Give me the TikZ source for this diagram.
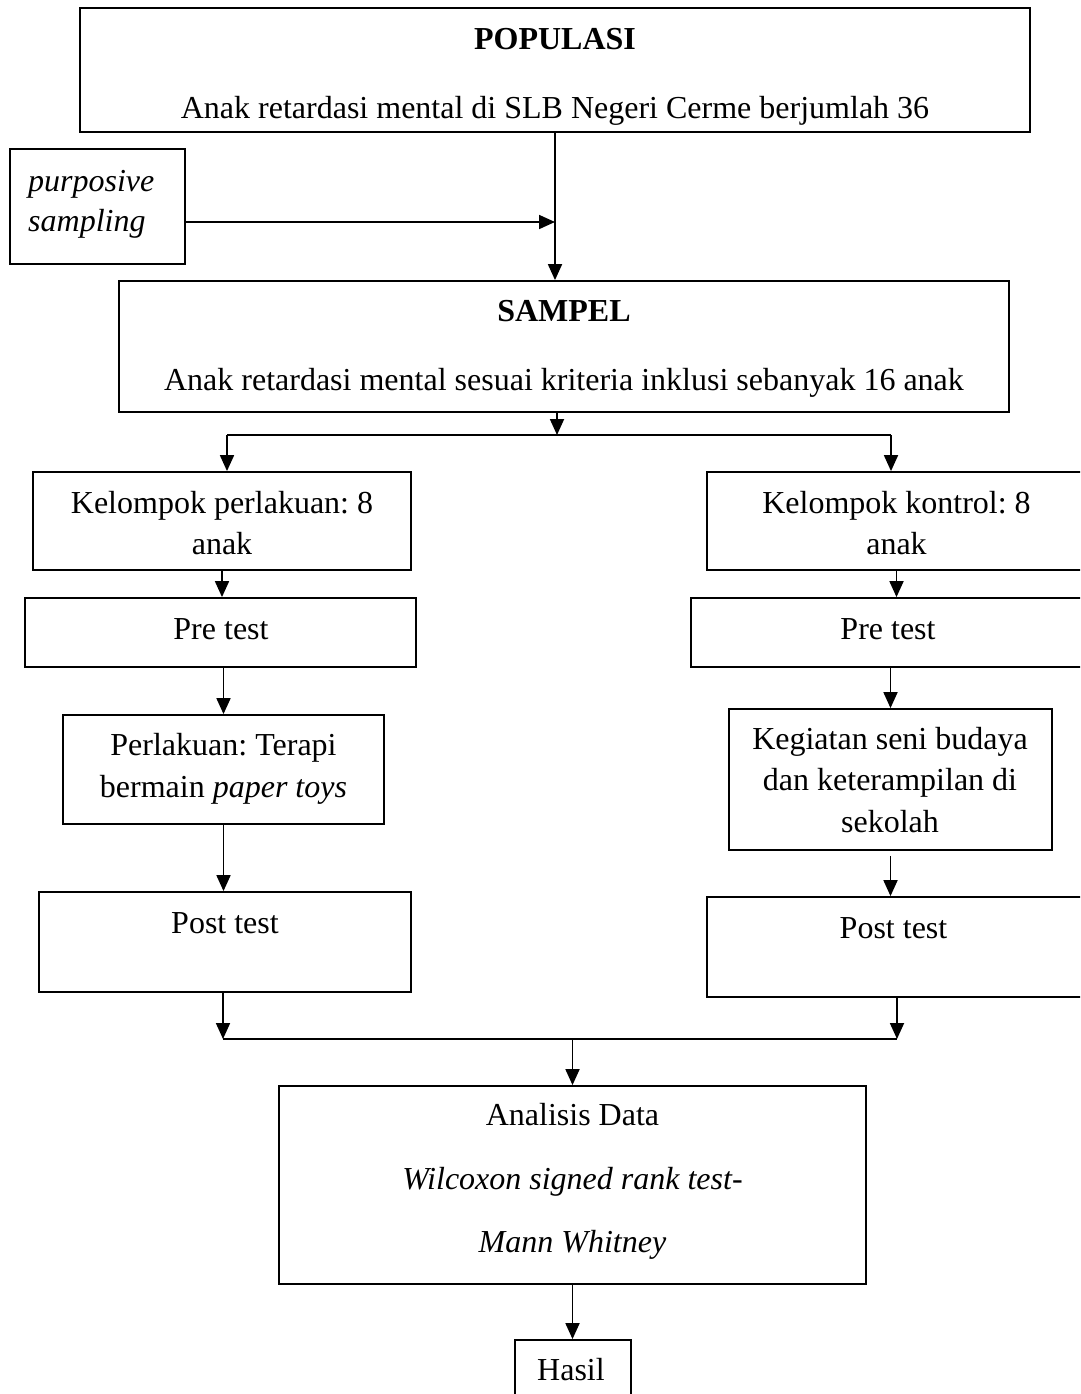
\documentclass[tikz,border=0pt]{standalone}
\usepackage{fontspec}
\setmainfont{Liberation Serif}
\usetikzlibrary{arrows.meta}
\frenchspacing
\begin{document}
\begin{tikzpicture}[x=1pt,y=-1pt]
\tikzset{
  box/.style={draw, line width=1.8pt, inner sep=0pt},
  txt/.style={anchor=base, align=center, inner sep=0pt, font=\fontsize{32}{41}\selectfont},
  arr/.style={line width=1.8pt, -{Triangle[length=16pt,width=14pt]}},
  ln/.style={line width=1.8pt},
}
\useasboundingbox (0,0) rectangle (1080,1394);
\clip (0,0) rectangle (1080,1394);
% boxes
\node[box, minimum width=950pt, minimum height=124pt] (pop) at (555,70) {};
\node[box, minimum width=175pt, minimum height=115pt] (purp) at (97.5,206.5) {};
\node[box, minimum width=890pt, minimum height=131pt] (samp) at (564,346.5) {};
\node[box, minimum width=378pt, minimum height=98pt] (kelL) at (222,521) {};
\node[box, minimum width=379pt, minimum height=98pt] (kelR) at (896.5,521) {};
\node[box, minimum width=391pt, minimum height=69pt] (preL) at (220.5,632.5) {};
\node[box, minimum width=395pt, minimum height=69pt] (preR) at (888.5,632.5) {};
\node[box, minimum width=321pt, minimum height=109pt] (perL) at (223.5,769.5) {};
\node[box, minimum width=323pt, minimum height=141pt] (kegR) at (890.5,779.5) {};
\node[box, minimum width=372pt, minimum height=100pt] (postL) at (225,942) {};
\node[box, minimum width=379pt, minimum height=100pt] (postR) at (896.5,947) {};
\node[box, minimum width=587pt, minimum height=198pt] (anal) at (572.5,1185) {};
\node[box, minimum width=116pt, minimum height=70pt] (hasil) at (573,1375) {};
% texts (base anchor = baseline of the last line)
\node[txt, font=\fontsize{32}{68}\selectfont] (popT) at (555,118) {\textbf{POPULASI}\\Anak retardasi mental di SLB Negeri Cerme berjumlah 36};
\node[txt, anchor=base west, align=left, font=\fontsize{32}{40}\selectfont\itshape] (purpT) at (28,231.7) {purposive\\sampling};
\node[txt, font=\fontsize{32}{68.3}\selectfont] (sampT) at (564,390) {\textbf{SAMPEL}\\Anak retardasi mental sesuai kriteria inklusi sebanyak 16 anak};
\node[txt] (kelLT) at (222,554) {Kelompok perlakuan: 8\\anak};
\node[txt] (kelRT) at (896.5,554) {Kelompok kontrol: 8\\anak};
\node[txt] (preLT) at (221,639) {Pre test};
\node[txt] (preRT) at (888,639) {Pre test};
\node[txt, font=\fontsize{32}{42}\selectfont] (perLT) at (223.5,797) {Perlakuan: Terapi\\bermain \textit{paper toys}};
\node[txt, font=\fontsize{32}{41.7}\selectfont] (kegRT) at (890,832.5) {Kegiatan seni budaya\\dan keterampilan di\\sekolah};
\node[txt] (postLT) at (225,933) {Post test};
\node[txt] (postRT) at (893.5,938.6) {Post test};
\node[txt, font=\fontsize{32}{63.3}\selectfont] (analT) at (572.5,1252.3) {Analisis Data\\\textit{Wilcoxon signed rank test-}\\\textit{Mann Whitney}};
\node[txt] (hasilT) at (571,1380) {Hasil};
% junction coordinates
\coordinate (j1) at (555,222);
\coordinate (br) at (557,435);
\coordinate (brL) at (227,435);
\coordinate (brR) at (891,435);
\coordinate (mL) at (223,1039);
\coordinate (mR) at (897,1039);
% connectors
\draw[arr] (pop.south) -- (pop.south |- samp.north);
\draw[arr] ([yshift=-15.5pt]purp.east) -- (j1);
\draw[arr] (samp.south -| br) -- (br);
\draw[ln] (brL) -- (brR);
\draw[arr] (brL) -- (brL |- kelL.north);
\draw[arr] (brR) -- (brR |- kelR.north);
\draw[arr] (kelL.south) -- (kelL.south |- preL.north);
\draw[arr] (kelR.south) -- (kelR.south |- preR.north);
\draw[arr] (perL.north |- preL.south) -- (perL.north);
\draw[arr] (kegR.north |- preR.south) -- (kegR.north);
\draw[arr] (perL.south) -- (perL.south |- postL.north);
\draw[arr] ([yshift=-5pt]kegR.south) -- (kegR.south |- postR.north);
\draw[arr] (postL.south -| mL) -- (mL);
\draw[arr] (postR.south -| mR) -- (mR);
\draw[ln] (mL) -- (mR);
\draw[arr] (anal.north |- mL) -- (anal.north);
\draw[arr] (anal.south) -- (anal.south |- hasil.north);
\end{tikzpicture}
\end{document}
